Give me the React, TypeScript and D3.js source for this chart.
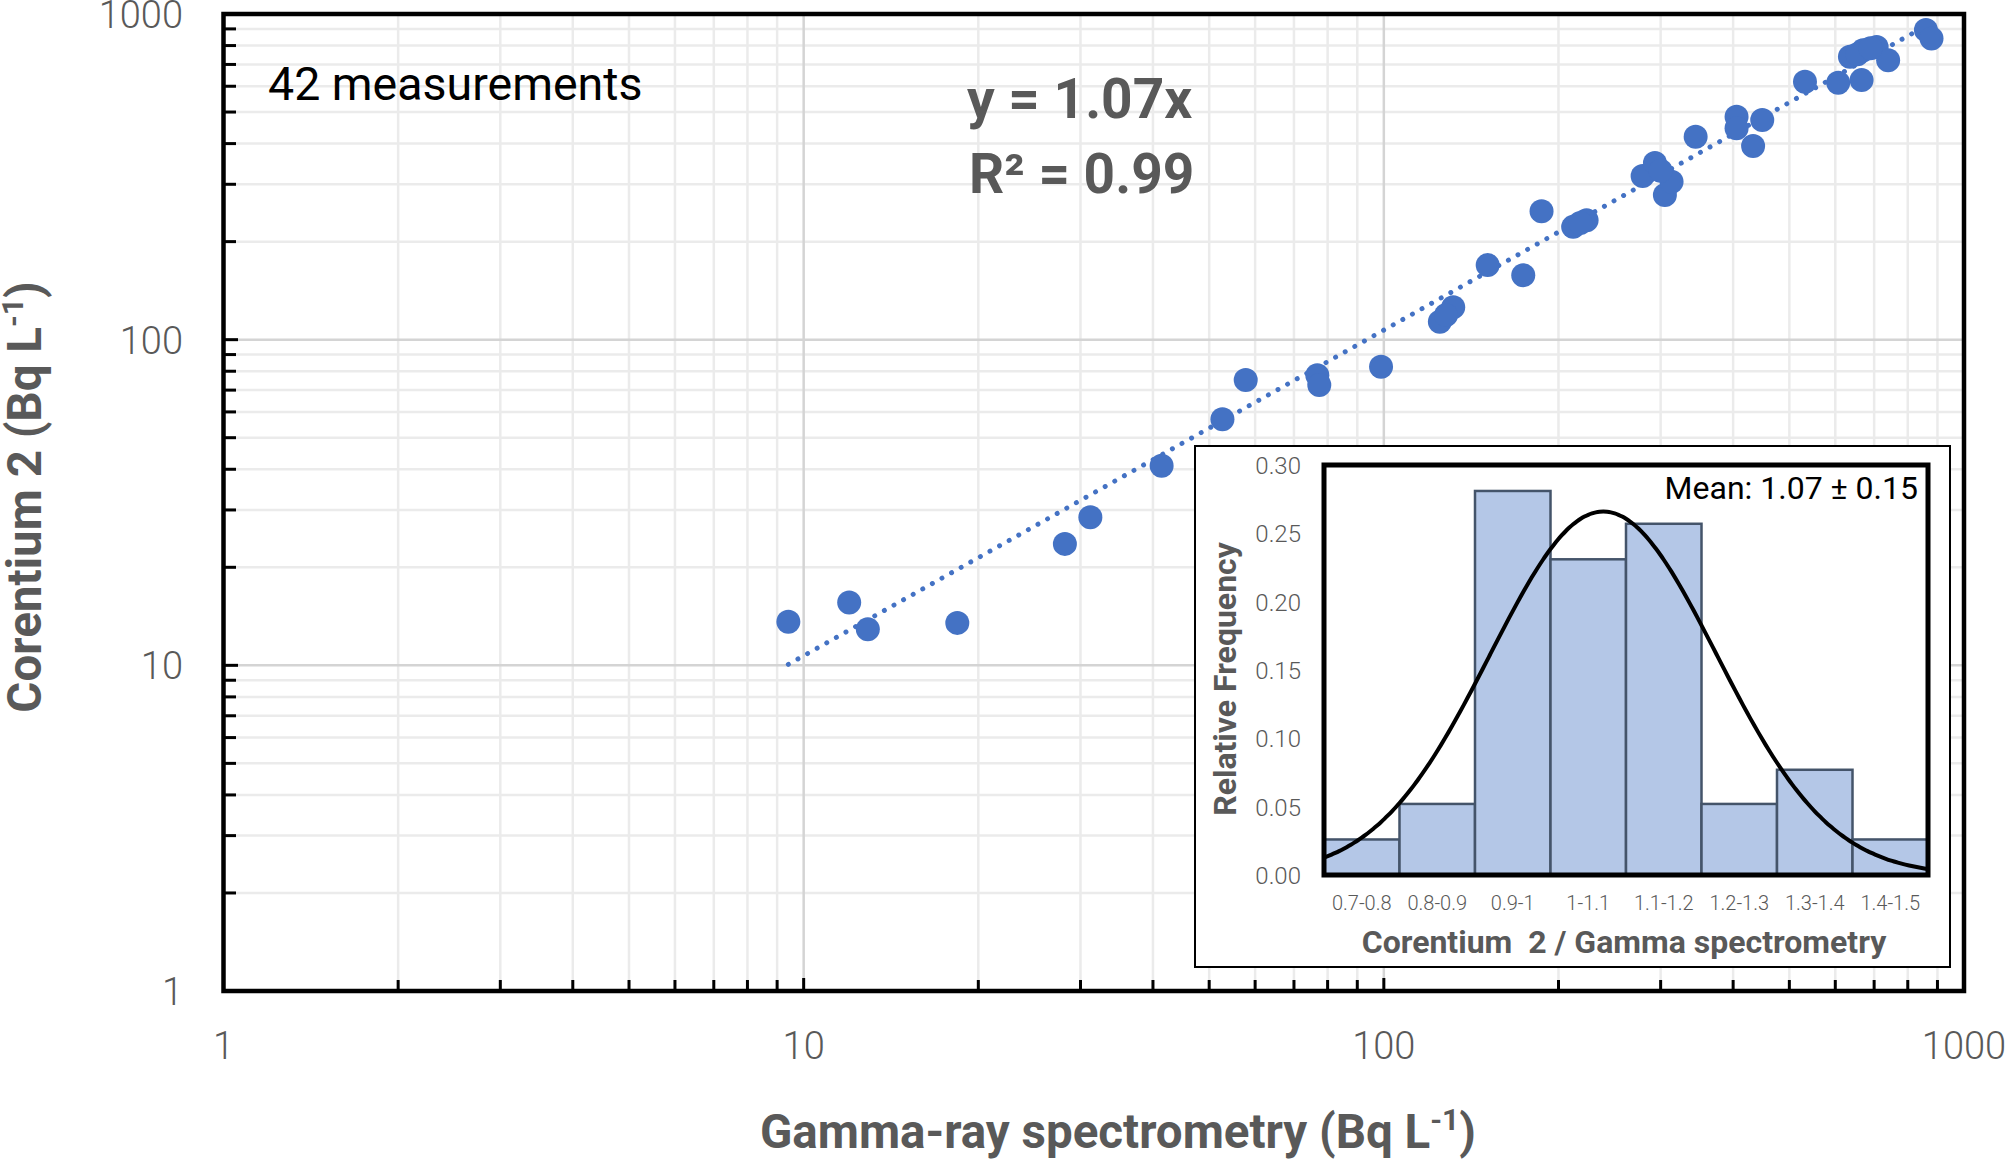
import * as d3 from "d3";

// scatter: gamma-ray spectrometry (x) vs Corentium 2 (y), Bq/L
const gammaValues = [
  9.41, 11.98, 12.9, 18.4, 28.2, 31.2, 41.4, 52.7, 57.8, 76.8, 77.4, 98.9, 124.9, 131.7, 151,
  173.9, 187, 212, 223.6, 279.3, 293.3, 305.1, 313.3, 344.7, 405.5, 405.5, 433, 449, 532, 607,
  635.9, 666, 670, 707, 740, 859.8, 879, 128, 300, 218, 655, 690,
];
const corentiumValues = [
  13.6, 15.6, 12.9, 13.5, 23.6, 28.5, 41.0, 57.0, 75.2, 77.8, 72.6, 82.6, 113.5, 125.7, 169.4,
  157.8, 248, 222, 232.8, 317.9, 349, 278, 305.5, 419.8, 483.5, 445.5, 393, 472.4, 619.6, 615,
  739, 626.6, 774, 792.5, 721.6, 892.4, 841.5, 119, 330, 228, 752, 785,
];
const slope = 1.07;
const logTicks = [1, 10, 100, 1000];

// inset histogram of the ratio
const ratioBins = ["0.7-0.8", "0.8-0.9", "0.9-1", "1-1.1", "1.1-1.2", "1.2-1.3", "1.3-1.4", "1.4-1.5"];
const relFrequency = [0.026, 0.052, 0.281, 0.231, 0.257, 0.052, 0.077, 0.026];
const freqTicks = [0, 0.05, 0.1, 0.15, 0.2, 0.25, 0.3];
const ratioMean = 1.07;
const ratioSd = 0.15;

const W = 2008;
const H = 1160;
const grey = "#595959";
const blue = "#4472C4";
const light = "Roboto, 'Liberation Sans', sans-serif";

export default function App() {
  const x = d3.scaleLog().domain([1, 1000]).range([223.5, 1964]);
  const y = d3.scaleLog().domain([1, 1000]).range([991, 14]);
  const all = x.ticks(); // 1..9,10..90,...
  const minor = all.filter((v) => !logTicks.includes(v));

  const pts = gammaValues.map((g, i) => ({ g, c: corentiumValues[i] }));
  const xMin = d3.min(gammaValues)!;
  const xMax = d3.max(gammaValues)!;
  const trend = d3
    .line<number>()
    .x((v) => x(v))
    .y((v) => y(slope * v))([xMin, xMax]);

  // inset
  const hx = d3.scaleBand().domain(ratioBins).range([1324, 1928]).padding(0);
  const hy = d3.scaleLinear().domain([0, 0.3]).range([875, 465]);
  const cx = d3.scaleLinear().domain([0.7, 1.5]).range([1324, 1928]);
  const binWidth = 0.1;
  const pdf = (v: number) =>
    (Math.exp(-0.5 * ((v - ratioMean) / ratioSd) ** 2) / (ratioSd * Math.sqrt(2 * Math.PI))) * binWidth;
  const curveXs = d3.range(0.7, 1.5001, 0.005);
  const curve = d3
    .line<number>()
    .x((v) => cx(v))
    .y((v) => hy(pdf(v)))
    .curve(d3.curveBasis)(curveXs);

  return (
    <svg width={W} height={H} style={{ position: "absolute", left: 0, top: 0, background: "#fff" }}>
      <rect width={W} height={H} fill="#fff" />
      {/* gridlines */}
      {minor.map((v) => (
        <g key={"mg" + v}>
          <line x1={x(v)} x2={x(v)} y1={14} y2={991} stroke="#ebebeb" strokeWidth={2.5} />
          <line x1={223.5} x2={1964} y1={y(v)} y2={y(v)} stroke="#ebebeb" strokeWidth={2.5} />
        </g>
      ))}
      {logTicks.map((v) => (
        <g key={"Mg" + v}>
          <line x1={x(v)} x2={x(v)} y1={14} y2={991} stroke="#d4d4d4" strokeWidth={2.5} />
          <line x1={223.5} x2={1964} y1={y(v)} y2={y(v)} stroke="#d4d4d4" strokeWidth={2.5} />
        </g>
      ))}

      {/* trend line */}
      <path d={trend!} fill="none" stroke={blue} strokeWidth={5} strokeDasharray="0.01 11" strokeLinecap="round" />

      {/* points */}
      {pts.map((p, i) => (
        <circle key={i} cx={x(p.g)} cy={y(p.c)} r={12} fill={blue} />
      ))}

      {/* ticks */}
      {all.map((v) => (
        <g key={"t" + v}>
          <line x1={x(v)} x2={x(v)} y1={991} y2={logTicks.includes(v) ? 978 : 980} stroke="#000" strokeWidth={3} />
          <line x1={223.5} x2={logTicks.includes(v) ? 238 : 236} y1={y(v)} y2={y(v)} stroke="#000" strokeWidth={3} />
        </g>
      ))}
      <rect x={223.5} y={14} width={1964 - 223.5} height={991 - 14} fill="none" stroke="#000" strokeWidth={4.5} />

      {/* tick labels */}
      {logTicks.map((v) => (
        <text key={"yl" + v} x={183} y={y(v) + 14} textAnchor="end" fontFamily={light} fontWeight={300} fontSize={38} fill={grey}>
          {v}
        </text>
      ))}
      {logTicks.map((v) => (
        <text key={"xl" + v} x={x(v)} y={1059} textAnchor="middle" fontFamily={light} fontWeight={300} fontSize={38} fill={grey}>
          {v}
        </text>
      ))}

      {/* axis titles */}
      <text x={1118} y={1148} textAnchor="middle" fontFamily={light} fontWeight={700} fontSize={47.5} fill={grey}>
        Gamma-ray spectrometry (Bq L<tspan fontSize={30} dy={-18}>-1</tspan>
        <tspan dy={18}>)</tspan>
      </text>
      <text
        transform="translate(41,497) rotate(-90)"
        textAnchor="middle"
        fontFamily={light}
        fontWeight={700}
        fontSize={47.5}
        fill={grey}
      >
        Corentium 2 (Bq L<tspan fontSize={30} dy={-18}>-1</tspan>
        <tspan dy={18}>)</tspan>
      </text>

      {/* annotations */}
      <text x={268} y={100} fontFamily={light} fontSize={46.5} fill="#000">
        42 measurements
      </text>
      <text x={967} y={118} fontFamily={light} fontWeight={700} fontSize={55} fill={grey}>
        y = 1.07x
      </text>
      <text x={969} y={193} fontFamily={light} fontWeight={700} fontSize={55} fill={grey}>
        R² = 0.99
      </text>

      {/* inset */}
      <rect x={1195} y={446} width={755} height={521} fill="#fff" stroke="#000" strokeWidth={2} />
      {relFrequency.map((f, i) => (
        <rect
          key={"b" + i}
          x={hx(ratioBins[i])}
          y={hy(f)}
          width={hx.bandwidth()}
          height={hy(0) - hy(f)}
          fill="#b4c7e7"
          stroke="#44546a"
          strokeWidth={2.5}
        />
      ))}
      <path d={curve!} fill="none" stroke="#000" strokeWidth={4} />
      <rect x={1324} y={465} width={1928 - 1324} height={875 - 465} fill="none" stroke="#000" strokeWidth={5} />
      {freqTicks.map((v) => (
        <text key={"fy" + v} x={1301} y={hy(v) + 9} textAnchor="end" fontFamily={light} fontWeight={300} fontSize={24} fill={grey}>
          {d3.format(".2f")(v)}
        </text>
      ))}
      {ratioBins.map((b) => (
        <text key={"fx" + b} x={hx(b)! + hx.bandwidth() / 2} y={910} textAnchor="middle" fontFamily={light} fontWeight={300} fontSize={20} fill={grey}>
          {b}
        </text>
      ))}
      <text x={1624} y={953} textAnchor="middle" fontFamily={light} fontWeight={700} fontSize={32} fill={grey} style={{ whiteSpace: "pre" }}>
        {"Corentium  2 / Gamma spectrometry"}
      </text>
      <text transform="translate(1236,679) rotate(-90)" textAnchor="middle" fontFamily={light} fontWeight={700} fontSize={32} fill={grey}>
        Relative Frequency
      </text>
      <text x={1918} y={499} textAnchor="end" fontFamily={light} fontSize={32} fill="#000">
        Mean: 1.07 ± 0.15
      </text>
    </svg>
  );
}
